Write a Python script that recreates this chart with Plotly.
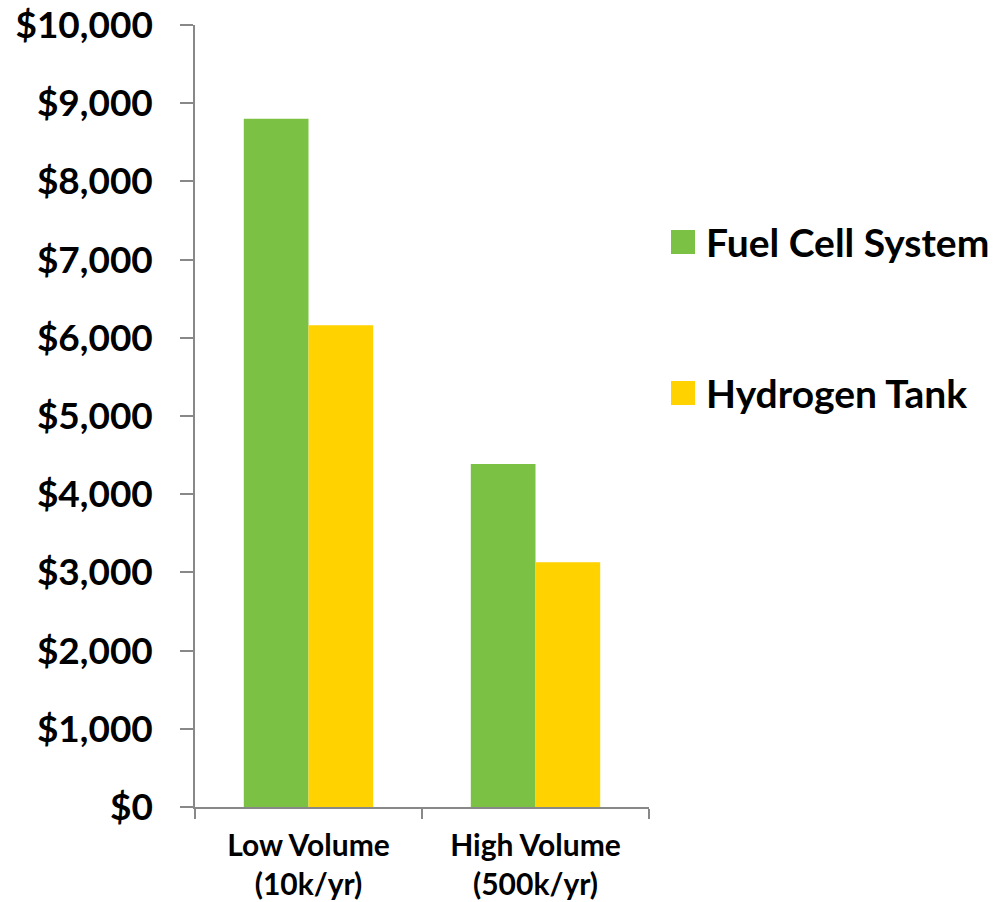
import plotly.graph_objects as go

categories = ["Low Volume<br>(10k/yr)", "High Volume<br>(500k/yr)"]
series_names = ["Fuel Cell System", "Hydrogen Tank"]
fuel_cell = [8800, 4385]
hydrogen_tank = [6160, 3130]
colors = ["#7BC143", "#FFD200"]
y_ticks = [0, 1000, 2000, 3000, 4000, 5000, 6000, 7000, 8000, 9000, 10000]
y_tick_labels = ["$0", "$1,000", "$2,000", "$3,000", "$4,000", "$5,000",
                 "$6,000", "$7,000", "$8,000", "$9,000", "$10,000"]

FONT = "Lato"
fig = go.Figure()
for name, vals, col in zip(series_names, [fuel_cell, hydrogen_tank], colors):
    fig.add_trace(go.Bar(x=categories, y=vals, name=name, marker=dict(color=col, line=dict(width=0)),
                         showlegend=False))

fig.update_layout(
    width=1004, height=902,
    margin=dict(l=195, r=355, t=25, b=95, pad=0),
    paper_bgcolor="white", plot_bgcolor="white",
    barmode="group", bargap=0.43, bargroupgap=0,
    font=dict(family=FONT, color="black"),
    xaxis=dict(showline=True, linecolor="#888888", linewidth=1.5,
               ticks="outside", ticklen=10, tickcolor="#888888", tickwidth=1.5,
               tickson="boundaries", automargin=False, ticklabelstandoff=11,
               tickfont=dict(family=FONT, size=30, color="black", weight="bold"),
               showgrid=False),
    yaxis=dict(range=[0, 10000], tickvals=y_ticks, ticktext=y_tick_labels,
               showline=True, linecolor="#888888", linewidth=1.5,
               ticks="outside", ticklen=13, tickcolor="#888888", tickwidth=1.5,
               ticklabelstandoff=20, automargin=False,
               tickfont=dict(family=FONT, size=37, color="black", weight="bold"),
               showgrid=False, zeroline=False),
)

# legend drawn manually (large square swatches, wide spacing)
legend_y = [242, 393]
for name, col, yy in zip(series_names, colors, legend_y):
    fig.add_shape(type="rect", xref="paper", yref="paper",
                  x0=(671 - 195) / 454, x1=(695 - 195) / 454,
                  y0=(807 - yy - 12) / 782, y1=(807 - yy + 12) / 782,
                  fillcolor=col, line=dict(width=0))
    fig.add_annotation(xref="paper", yref="paper", x=(704 - 195) / 454, y=(807 - yy) / 782,
                       text=name, showarrow=False, xanchor="left", yanchor="middle",
                       font=dict(family=FONT, size=39, color="black", weight="bold"))

fig.write_html("out.html")
